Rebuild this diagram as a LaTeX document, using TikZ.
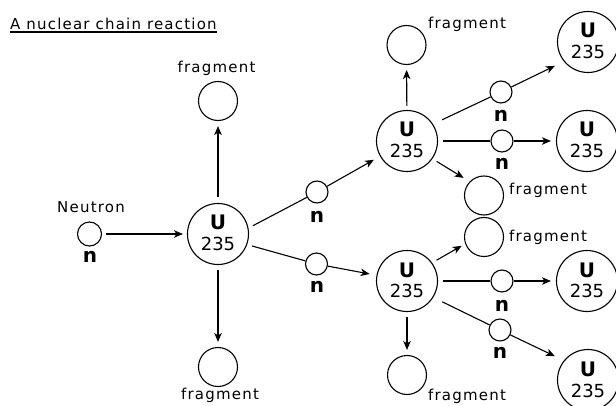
\documentclass[tikz,border=0pt]{standalone}
\usepackage{fontspec}
\setmainfont{DejaVu Sans}
\newfontfamily\lblfont[LetterSpace=8]{DejaVu Sans}
\usetikzlibrary{arrows.meta,calc}
\begin{document}
\begin{tikzpicture}[x=1pt,y=-1pt,
  ucirc/.style={circle,draw,line width=1.1pt,minimum size=61pt,inner sep=0pt},
  fcirc/.style={circle,draw,line width=1.1pt,minimum size=39pt,inner sep=0pt},
  ncirc/.style={circle,draw,line width=1.1pt,minimum size=22pt,inner sep=0pt},
  txt/.style={font=\lblfont\fontsize{15}{18}\selectfont,inner sep=0pt,anchor=base},
  ubig/.style={font=\bfseries\fontsize{20}{24}\selectfont,inner sep=0pt,anchor=base},
  unum/.style={font=\fontsize{18}{21}\selectfont,inner sep=0pt,anchor=base},
  nlab/.style={font=\bfseries\fontsize{20}{24}\selectfont,inner sep=0pt,anchor=base},
  link/.style={line width=1.1pt},
  arr/.style={link,-{Stealth[length=9pt,width=7.5pt,inset=2.5pt]}}
]
\fill[white] (0,0) rectangle (616,406);
\useasboundingbox (0,0) rectangle (616,406);

% title
\node[txt,anchor=base west] (title) at (10,29.5) {A nuclear chain reaction};
\draw[link] ([yshift=-2.5pt]title.base west) -- ([yshift=-2.5pt]title.base east);

% neutron
\node[ncirc,minimum size=24pt] (n0) at (89.5,234) {};
\node[txt] (n0t) at (91,213) {Neutron};
\node[nlab] (n0l) at (90,263) {n};

% uranium nuclei
\newcommand\Unucleus[3]{%
  \node[ucirc] (#1) at (#2,#3) {};
  \node[ubig] (#1U) at ($(#1)+(0,-4)$) {U};
  \node[unum] (#1N) at ($(#1)+(0,17)$) {235};}
\Unucleus{u1}{218}{234}
\Unucleus{u2}{407}{141}
\Unucleus{u3}{588}{42}
\Unucleus{u4}{587}{141}
\Unucleus{u5}{407}{281}
\Unucleus{u6}{587}{281}
\Unucleus{u7}{588}{380}

% fragments
\node[fcirc] (f1) at (218,101) {};
\node[txt] (f1t) at (216.5,73) {fragment};
\node[fcirc] (f2) at (218,367) {};
\node[txt] (f2t) at (220,399) {fragment};
\node[fcirc] (f3) at (406.5,45) {};
\node[txt] (f3t) at (467,29) {fragment};
\node[fcirc] (f4) at (484,195.5) {};
\node[txt] (f4t) at (548,195) {fragment};
\node[fcirc] (f5) at (484,237) {};
\node[txt] (f5t) at (548,242) {fragment};
\node[fcirc] (f6) at (407,375) {};
\node[txt] (f6t) at (467,400) {fragment};

% neutrons
\node[ncirc] (na) at (317,192) {};
\node[nlab] (nal) at (317,223) {n};
\node[ncirc] (nb) at (316.5,264) {};
\node[nlab] (nbl) at (317,292) {n};
\node[ncirc] (nc) at (501,92) {};
\node[nlab] (ncl) at (501,122) {n};
\node[ncirc] (nd) at (502,141) {};
\node[nlab] (ndl) at (502,170) {n};
\node[ncirc] (ne) at (502,281) {};
\node[nlab] (nel) at (502,312) {n};
\node[ncirc] (nf) at (500,330) {};
\node[nlab] (nfl) at (500,358) {n};

% connectors
\draw[arr,shorten <=4pt,shorten >=4pt] (n0) -- (u1);
\draw[arr,shorten <=6pt,shorten >=5pt] (u1) -- (f1);
\draw[arr,shorten <=5pt,shorten >=5pt] (u1) -- (f2);
\draw[link,shorten <=5pt] (u1.11) -- (na);
\draw[arr,shorten >=7pt] (na) -- (u2);
\draw[link,shorten <=5pt] (u1.-20) -- (nb);
\draw[arr,shorten >=7pt] (nb) -- (u5);

\draw[arr,shorten <=4pt,shorten >=5pt] (u2) -- (f3);
\draw[link,shorten <=10pt] (u2.33) -- (nc);
\draw[arr,shorten >=10pt] (nc) -- (u3.219);
\draw[link,shorten <=5pt] (u2) -- (nd);
\draw[arr,shorten >=5pt] (nd) -- (u4);
\draw[arr,shorten <=5pt,shorten >=7pt] (u2.-35) -- (f4.136);

\draw[arr,shorten <=5pt,shorten >=4pt] (u5.36) -- (f5.200);
\draw[link,shorten <=5pt] (u5) -- (ne);
\draw[arr,shorten >=5pt] (ne) -- (u6);
\draw[link,shorten <=10pt] (u5.-32) -- (nf);
\draw[arr,shorten >=10pt] (nf) -- (u7.141);
\draw[arr,shorten <=5pt,shorten >=5pt] (u5) -- (f6);
\end{tikzpicture}
\end{document}
